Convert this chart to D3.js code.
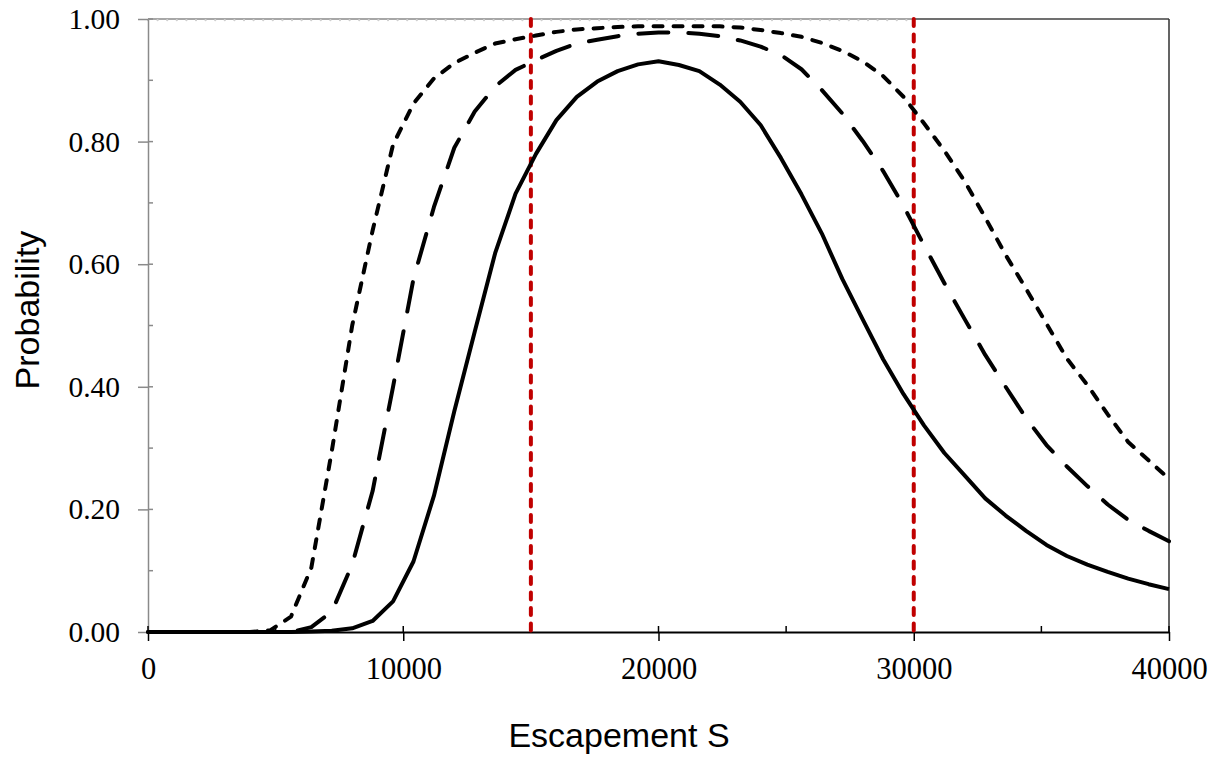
<!DOCTYPE html>
<html>
<head>
<meta charset="utf-8">
<script src="https://cdn.jsdelivr.net/npm/d3@7"></script>
<style>
  body { margin: 0; background: #fff; }
  .tick text { font-family: "Times New Roman", "Liberation Serif", serif; fill: #000; }
  .y-axis .tick text { font-size: 29.5px; }
  .x-axis .tick text { font-size: 30.5px; }
  .title { font-family: Arial, "Liberation Sans", sans-serif; font-size: 34px; fill: #000; }
</style>
</head>
<body>
<script>
// escapement S (x values, every 800)
const escapement = [0, 800, 1600, 2400, 3200, 4000, 4800, 5600, 6400, 7200,
  8000, 8800, 9600, 10400, 11200, 12000, 12800, 13600, 14400, 15200,
  16000, 16800, 17600, 18400, 19200, 20000, 20800, 21600, 22400, 23200,
  24000, 24800, 25600, 26400, 27200, 28000, 28800, 29600, 30400, 31200,
  32000, 32800, 33600, 34400, 35200, 36000, 36800, 37600, 38400, 39200, 40000];

// probability curves
const probSolid = [0, 0, 0, 0, 0, 0, 0, 0, 0.001, 0.002,
  0.006, 0.018, 0.05, 0.115, 0.222, 0.36, 0.49, 0.618, 0.715, 0.78,
  0.835, 0.873, 0.898, 0.915, 0.926, 0.931, 0.925, 0.915, 0.893, 0.865,
  0.827, 0.773, 0.714, 0.65, 0.576, 0.51, 0.445, 0.388, 0.337, 0.292,
  0.255, 0.218, 0.19, 0.165, 0.142, 0.124, 0.11, 0.098, 0.087, 0.078, 0.07];

const probLongDash = [0, 0, 0, 0, 0, 0, 0, 0, 0.008, 0.033,
  0.11, 0.23, 0.40, 0.576, 0.693, 0.79, 0.849, 0.89, 0.917, 0.933,
  0.948, 0.96, 0.966, 0.972, 0.976, 0.978, 0.978, 0.976, 0.972, 0.965,
  0.955, 0.941, 0.918, 0.884, 0.846, 0.801, 0.752, 0.695, 0.631, 0.569,
  0.51, 0.452, 0.40, 0.349, 0.305, 0.27, 0.238, 0.208, 0.183, 0.165, 0.148];

const probShortDash = [0, 0, 0, 0, 0, 0, 0.003, 0.025, 0.105, 0.295,
  0.50, 0.655, 0.795, 0.862, 0.903, 0.928, 0.945, 0.96, 0.967, 0.973,
  0.979, 0.983, 0.985, 0.987, 0.988, 0.988, 0.988, 0.988, 0.988, 0.986,
  0.982, 0.977, 0.971, 0.961, 0.948, 0.931, 0.907, 0.873, 0.83, 0.785,
  0.735, 0.676, 0.615, 0.56, 0.503, 0.446, 0.403, 0.355, 0.31, 0.28, 0.25];

const targetLines = [15000, 30000];
const xTicks = [0, 10000, 20000, 30000, 40000];
const xMinor = [5000, 15000, 25000, 35000];
const yTicks = [0, 0.2, 0.4, 0.6, 0.8, 1.0];
const yMinor = [0.1, 0.3, 0.5, 0.7, 0.9];

const width = 1221, height = 761;
const svg = d3.select("body").append("svg")
    .attr("width", width).attr("height", height);

const x = d3.scaleLinear().domain([0, 40000]).range([148, 1169]);
const y = d3.scaleLinear().domain([0, 1]).range([632, 19]);

// top border: dotted light part up to 30000, dark after
svg.append("line").attr("x1", x(0)).attr("x2", x(30000)).attr("y1", y(1)).attr("y2", y(1))
  .attr("stroke", "#8a8a8a").attr("stroke-width", 1.5);
svg.append("line").attr("x1", x(0)).attr("x2", x(30000)).attr("y1", y(1) + 1.2).attr("y2", y(1) + 1.2)
  .attr("stroke", "#cfcfcf").attr("stroke-width", 2.2)
  .attr("stroke-linecap", "round").attr("stroke-dasharray", "0,9.6");
svg.append("line").attr("x1", x(30000)).attr("x2", x(40000)).attr("y1", y(1)).attr("y2", y(1))
  .attr("stroke", "#404040").attr("stroke-width", 1.5);
svg.append("line").attr("x1", x(40000)).attr("x2", x(40000)).attr("y1", y(1)).attr("y2", y(0))
  .attr("stroke", "#303030").attr("stroke-width", 1.5);

// y axis (gray)
const yAxis = svg.append("g").attr("class", "y-axis").attr("transform", `translate(${x(0)},0)`)
  .call(d3.axisLeft(y).tickValues(yTicks).tickFormat(d3.format(".2f"))
    .tickSize(10).tickSizeOuter(0).tickPadding(18));
yAxis.select(".domain").attr("stroke", "#8a8a8a").attr("stroke-width", 1.5);
yAxis.selectAll(".tick line").attr("stroke", "#8a8a8a").attr("stroke-width", 1.5);
svg.append("g").selectAll("line").data(yTicks.concat(yMinor)).join("line")
  .attr("x1", x(0)).attr("x2", x(0) + 5)
  .attr("y1", d => y(d)).attr("y2", d => y(d))
  .attr("stroke", "#8a8a8a").attr("stroke-width", 1.5);

// x axis (black)
const xAxis = svg.append("g").attr("class", "x-axis").attr("transform", `translate(0,${y(0)})`)
  .call(d3.axisBottom(x).tickValues(xTicks).tickFormat(d3.format("d"))
    .tickSize(9).tickSizeOuter(0).tickPadding(16));
xAxis.select(".domain").attr("stroke", "#000").attr("stroke-width", 2);
xAxis.selectAll(".tick line").attr("stroke", "#000").attr("stroke-width", 1.5);
svg.append("g").selectAll("line").data(xTicks.concat(xMinor)).join("line")
  .attr("x1", d => x(d)).attr("x2", d => x(d))
  .attr("y1", y(0) - 6).attr("y2", y(0))
  .attr("stroke", "#000").attr("stroke-width", 1.5);

// red reference lines
svg.append("g").selectAll("line").data(targetLines).join("line")
  .attr("x1", d => x(d)).attr("x2", d => x(d))
  .attr("y1", y(1)).attr("y2", y(0))
  .attr("stroke", "#c00000").attr("stroke-width", 4)
  .attr("stroke-linecap", "round").attr("stroke-dasharray", "7,8.5");

// curves
const line = d3.line().x((d, i) => x(escapement[i])).y(d => y(d));
const curves = [
  { values: probShortDash, dash: "9,11" },
  { values: probLongDash, dash: "30,20" },
  { values: probSolid, dash: null }
];
svg.append("g").selectAll("path").data(curves).join("path")
  .attr("d", d => line(d.values))
  .attr("fill", "none").attr("stroke", "#000").attr("stroke-width", 4)
  .attr("stroke-linejoin", "round")
  .attr("stroke-linecap", d => d.dash ? "round" : "butt")
  .attr("stroke-dasharray", d => d.dash);

// titles
svg.append("text").attr("class", "title")
  .attr("x", 619).attr("y", 747).attr("text-anchor", "middle")
  .text("Escapement S");
svg.append("text").attr("class", "title")
  .attr("transform", "translate(39,310) rotate(-90)")
  .attr("text-anchor", "middle")
  .text("Probability");
</script>
</body>
</html>
